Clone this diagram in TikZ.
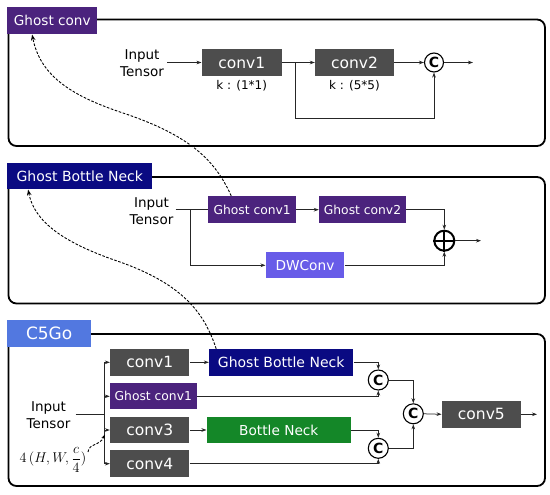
\documentclass[tikz,border=0pt]{standalone}
\usepackage{graphicx}
\usepackage{fontspec}
\setmainfont{DejaVu Sans}
\usetikzlibrary{arrows.meta}
\definecolor{dgray}{RGB}{77,77,77}
\definecolor{gpurple}{RGB}{75,35,125}
\definecolor{gnavy}{RGB}{10,10,130}
\definecolor{dwblue}{RGB}{104,92,232}
\definecolor{c5blue}{RGB}{82,120,224}
\definecolor{bgreen}{RGB}{20,135,40}
\begin{document}
\begin{tikzpicture}[x=1pt,y=-1pt,
 panel/.style={draw=black, line width=1.8pt, rounded corners=8pt},
 lbl/.style={fill=#1, text=white, inner sep=0pt},
 blk/.style={fill=#1, text=white, inner sep=0pt, minimum height=26.6pt},
 cat/.style={circle, draw=black, line width=1.1pt, fill=white, minimum size=19pt, inner sep=0pt, font=\fontsize{14}{14}\selectfont\bfseries},
 ln/.style={draw=black!85, line width=0.75pt},
 arr/.style={ln, -{Stealth[length=5pt,width=3.6pt]}},
 dsh/.style={draw=black, line width=0.9pt, dash pattern=on 2.6pt off 1.6pt, -{Stealth[length=6pt,width=4.5pt]}},
 txt/.style={align=center, font=\fontsize{13.5}{17}\selectfont, inner sep=0pt}
]
\useasboundingbox (0,0) rectangle (550,495);

% ---------- panel 1 : Ghost conv ----------
\draw[panel] (8.5,19.5) rectangle (545,146);
\node[lbl=gpurple, minimum width=90pt, minimum height=27.6pt, font=\fontsize{13.6}{16}\selectfont] (lbl1) at (52.3,20.5) {Ghost conv};
\node[txt] (in1) at (142,62.7) {Input\\Tensor};
\node[blk=dgray, minimum width=80pt, font=\fontsize{15.5}{18}\selectfont] (c1) at (241.7,62.5) {conv1};
\node[blk=dgray, minimum width=79pt, font=\fontsize{15.5}{18}\selectfont] (c2) at (354.5,62.5) {conv2};
\node[font=\fontsize{12}{13}\selectfont, inner sep=0pt] (k1) at (241.7,85.5) {k : (1*1)};
\node[font=\fontsize{12}{13}\selectfont, inner sep=0pt] (k2) at (354.5,85.5) {k : (5*5)};
\node[cat] (cc1) at (434,62.5) {C};
\coordinate (b1) at (295,62.5);
\coordinate (o1) at (473,62.5);
\draw[arr] ([xshift=3pt]in1.east |- c1.west) -- (c1.west);
\draw[arr] (c1.east) -- (c2.west);
\draw[arr] (c2.east) -- (cc1.west);
\draw[arr] (b1) -- ++(0,55.8) -| (cc1.south);
\draw[arr] (cc1.east) -- (o1);

% ---------- panel 2 : Ghost Bottle Neck ----------
\draw[panel] (8.5,177) rectangle (545,303.5);
\node[lbl=gnavy, minimum width=145pt, minimum height=26.6pt, font=\fontsize{14}{16}\selectfont] (lbl2) at (79.8,176) {Ghost Bottle Neck};
\node[txt] (in2) at (151.5,210.8) {Input\\Tensor};
\node[blk=gpurple, minimum width=87.7pt, minimum height=27.3pt, font=\fontsize{12.3}{14}\selectfont] (gb1) at (252.2,209.7) {Ghost conv1};
\node[blk=gpurple, minimum width=87pt, minimum height=27.3pt, font=\fontsize{12.3}{14}\selectfont] (gb2) at (362.5,209.7) {Ghost conv2};
\node[blk=dwblue, minimum width=78.6pt, minimum height=26pt, font=\fontsize{13.7}{16}\selectfont] (dw) at (305,265.3) {DWConv};
\node[circle, draw=black, line width=2pt, minimum size=20pt, inner sep=0pt] (pl) at (444.3,240.7) {};
\draw[line width=2pt] (pl.north) -- (pl.south) (pl.west) -- (pl.east);
\coordinate (b2) at (190.5,209.7);
\coordinate (o2) at (481,240.7);
\draw[ln] ([xshift=2pt]in2.east |- gb1.west) -- (gb1.west);
\draw[arr] (gb1.east) -- (gb2.west);
\draw[arr] (b2) |- (dw.west);
\draw[arr] (gb2.east) -| (pl.north);
\draw[arr] (dw.east) -| (pl.south);
\draw[arr] (pl.east) -- (o2);

% ---------- panel 3 : C5Go ----------
\draw[panel] (8.5,334) rectangle (545,486);
\node[lbl=c5blue, minimum width=83.7pt, minimum height=27.3pt, font=\fontsize{17}{19}\selectfont] (lbl3) at (49.2,333.7) {C5Go};
\node[txt] (in3) at (48.5,415) {Input\\Tensor};
\node[blk=dgray, minimum width=79.3pt, font=\fontsize{15.5}{18}\selectfont] (k1b) at (149.7,362.3) {conv1};
\node[blk=gpurple, minimum width=86.7pt, minimum height=26pt, font=\fontsize{12.3}{14}\selectfont] (gc) at (153.3,396.3) {Ghost conv1};
\node[blk=dgray, minimum width=79.3pt, font=\fontsize{15.5}{18}\selectfont] (k3) at (149.7,430) {conv3};
\node[blk=dgray, minimum width=79.3pt, font=\fontsize{15.5}{18}\selectfont] (k4) at (149.7,463.7) {conv4};
\node[blk=gnavy, minimum width=144.3pt, font=\fontsize{14}{16}\selectfont] (gbn) at (281.2,362.3) {Ghost Bottle Neck};
\node[blk=bgreen, minimum width=144.3pt, font=\fontsize{13.7}{16}\selectfont] (bn) at (278.8,430) {Bottle Neck};
\node[cat, minimum size=20pt] (C1) at (378.3,380) {C};
\node[cat, minimum size=20pt] (C2) at (378.3,448.3) {C};
\node[cat, minimum size=20pt] (C3) at (413.3,413.8) {C};
\node[blk=dgray, minimum width=79.3pt, font=\fontsize{15.5}{18}\selectfont] (k5) at (481.4,414.3) {conv5};
\coordinate (bus) at (104,414.3);
\coordinate (bt) at (104,362.3);
\coordinate (bb) at (104,463.7);
\coordinate (o3) at (537,414.3);
\draw[ln] ([xshift=5pt]in3.east |- bus) -- (bus);
\draw[ln] (bt) -- (bb);
\draw[arr] (bt) -- (k1b.west);
\draw[arr] (bt |- gc.west) -- (gc.west);
\draw[arr] (bt |- k3.west) -- (k3.west);
\draw[arr] (bb) -- (k4.west);
\draw[arr] (k1b.east) -- (gbn.west);
\draw[arr] (k3.east) -- (bn.west);
\draw[arr] (gbn.east) -| (C1.north);
\draw[arr] (gc.east) -| (C1.south);
\draw[arr] (bn.east) -| (C2.north);
\draw[arr] (k4.east) -| (C2.south);
\draw[arr] (C1.east) -| (C3.north);
\draw[arr] (C2.east) -| (C3.south);
\draw[arr] (C3.east) -- (k5.west);
\draw[arr] (k5.east) -- (o3);

\node[inner sep=0pt, font=\fontsize{12}{14}\selectfont] (ann) at (53,460) {\scalebox{1.18}{$4\,(H,W,{\displaystyle\frac{c}{4}})$}};
\coordinate (annp) at (88,452);
\coordinate (bustip) at (104.8,434.5);
\draw[dsh, -{Stealth[length=4.5pt,width=3.5pt]}] (annp) .. controls (89,443) and (100,446) .. (bustip);

% ---------- dashed references ----------
\draw[dsh] ([xshift=-21pt]gb1.north) .. controls (215,160) and (190,135) .. (120,112) .. controls (70,95) and (40,75) .. ([xshift=25pt]lbl1.south west);
\draw[dsh] ([xshift=-65pt]gbn.north) .. controls (205,315) and (185,285) .. (120,262) .. controls (70,245) and (35,225) .. ([xshift=21pt]lbl2.south west);
\end{tikzpicture}
\end{document}
